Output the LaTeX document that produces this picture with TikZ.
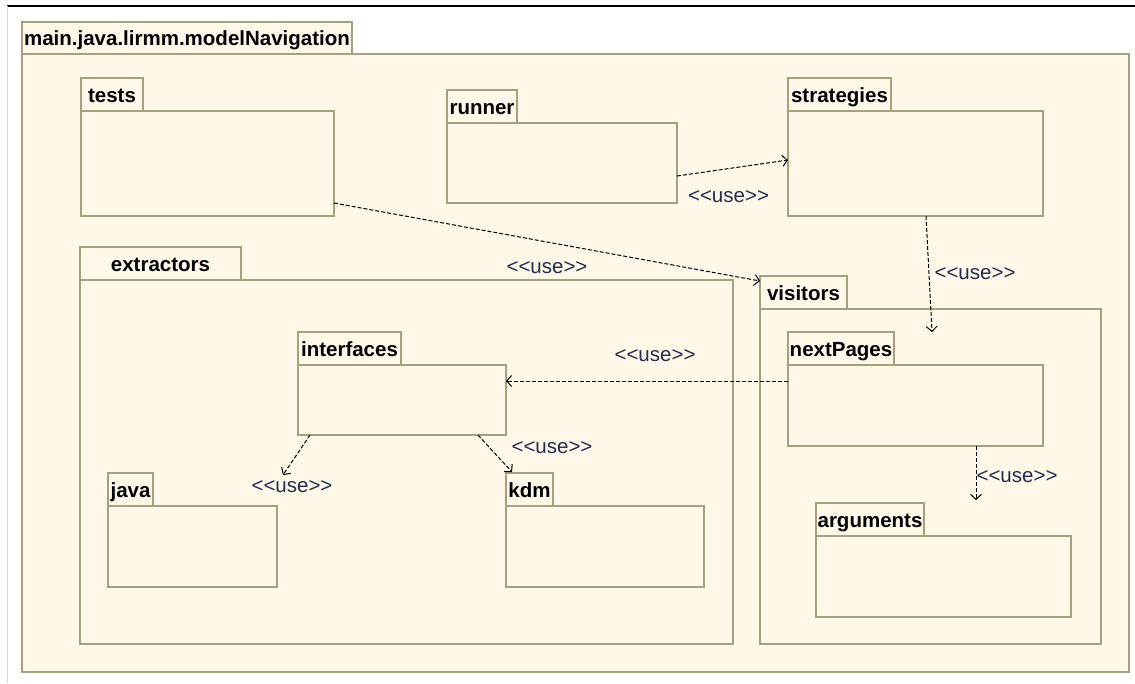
\documentclass[tikz,border=0pt]{standalone}
\usepackage{fontspec}
\setmainfont{Liberation Sans}
\usetikzlibrary{arrows.meta}
\usetikzlibrary{positioning}
\definecolor{pkgfill}{RGB}{255,248,233}
\definecolor{pkgline}{RGB}{168,158,128}
\definecolor{usetext}{RGB}{35,45,80}
\tikzset{pkgbody/.style = {draw=pkgline, fill=pkgfill, line width=1.3pt,
                           anchor=north west, outer sep=0pt, inner sep=0pt},
         pkgtab/.style  = {draw=pkgline, fill=pkgfill, line width=1.3pt,
                           anchor=south west, outer sep=0pt, inner sep=0pt,
                           minimum height=33pt, text height=17pt, text depth=2pt,
                           font=\fontsize{20.5}{24}\selectfont\bfseries},
         usedep/.style  = {dash pattern=on 4pt off 2pt, line width=1pt,
                           -{Straight Barb[length=5pt,width=11pt]}},
         uselbl/.style  = {font=\fontsize{20.5}{24}\selectfont, text=usetext,
                           inner sep=0pt}}
\newcommand{\usetag}{<{}<use>{}>}

\begin{document}
\begin{tikzpicture}[x=1pt, y=-1pt]
      \fill [white] (0, 0) rectangle (1135, 683);
      \useasboundingbox (0, 0) rectangle (1135, 683);
      \draw [line width=1.5pt] (7, 6) -- (1135, 6);
      \draw [black!15, line width=1pt] (7, 6) -- (7, 683);
      % outer package
      \node [pkgbody, minimum width=1107pt, minimum height=618pt] (model) at (22, 54) {};
      \node [pkgtab, minimum width=330pt, minimum height=32pt] (model-tab) at (model.north west) {main.java.lirmm.modelNavigation};
      % top row
      \node [pkgbody, minimum width=253pt, minimum height=105pt] (tests) at (81, 111) {};
      \node [pkgtab, minimum width=62pt] (tests-tab) at (tests.north west) {tests};
      \node [pkgbody, minimum width=230pt, minimum height=80pt] (runner) at (447, 123) {};
      \node [pkgtab, minimum width=70pt] (runner-tab) at (runner.north west) {runner};
      \node [pkgbody, minimum width=255pt, minimum height=105pt] (strategies) at (788, 111) {};
      \node [pkgtab, minimum width=103pt] (strategies-tab) at (strategies.north west) {strategies};
      % extractors and its subpackages
      \node [pkgbody, minimum width=653pt, minimum height=364pt] (extractors) at (80, 280) {};
      \node [pkgtab, minimum width=161pt] (extractors-tab) at (extractors.north west) {extractors};
      \node [pkgbody, minimum width=208pt, minimum height=70pt] (interfaces) at (298, 365) {};
      \node [pkgtab, minimum width=103pt] (interfaces-tab) at (interfaces.north west) {interfaces};
      \node [pkgbody, minimum width=169pt, minimum height=81pt] (java) at (108, 506) {};
      \node [pkgtab, minimum width=45pt] (java-tab) at (java.north west) {java};
      \node [pkgbody, minimum width=198pt, minimum height=81pt] (kdm) at (506, 506) {};
      \node [pkgtab, minimum width=47pt] (kdm-tab) at (kdm.north west) {kdm};
      % visitors and its subpackages
      \node [pkgbody, minimum width=341pt, minimum height=335pt] (visitors) at (760, 309) {};
      \node [pkgtab, minimum width=87pt] (visitors-tab) at (visitors.north west) {visitors};
      \node [pkgbody, minimum width=255pt, minimum height=81pt] (nextPages) at (788, 365) {};
      \node [pkgtab, minimum width=106pt] (nextPages-tab) at (nextPages.north west) {nextPages};
      \node [pkgbody, minimum width=255pt, minimum height=81pt] (arguments) at (816, 536) {};
      \node [pkgtab, minimum width=108pt] (arguments-tab) at (arguments.north west) {arguments};
      % dependencies
      \draw [usedep] ([yshift=-13pt]runner.east) -- ([yshift=3.5pt]strategies.west)
            node [uselbl, midway, xshift=-4pt, yshift=-29pt] (use-runner) {\usetag};
      \draw [usedep] ([yshift=-39.5pt]tests.east) -- ([yshift=11.5pt]visitors-tab.west)
            node [uselbl, midway, yshift=-26pt] (use-tests) {\usetag};
      \draw [usedep] ([xshift=10.5pt]strategies.south) -- ([xshift=16.5pt, yshift=33pt]nextPages.north)
            node [uselbl, midway, xshift=46pt] (use-strategies) {\usetag};
      \draw [usedep] ([yshift=24.5pt]nextPages.west) -- ([yshift=19pt]interfaces.east)
            node [uselbl, midway, xshift=8pt, yshift=25pt] (use-nextPages) {\usetag};
      \draw [usedep] ([xshift=12pt]interfaces.south west) -- ([xshift=6pt, yshift=31pt]java.north east)
            node [uselbl, pos=1, xshift=9pt, yshift=-12pt] (use-java) {\usetag};
      \draw [usedep] ([xshift=-28pt]interfaces.south east) -- ([xshift=6pt, yshift=1pt]kdm-tab.north west)
            node [uselbl, pos=1, xshift=40pt, yshift=24pt] (use-kdm) {\usetag};
      \draw [usedep] ([xshift=60.5pt]nextPages.south) -- ([xshift=32.5pt, yshift=36pt]arguments.north)
            node [uselbl, midway, xshift=41pt, yshift=-4pt] (use-arguments) {\usetag};
\end{tikzpicture}
\end{document}
